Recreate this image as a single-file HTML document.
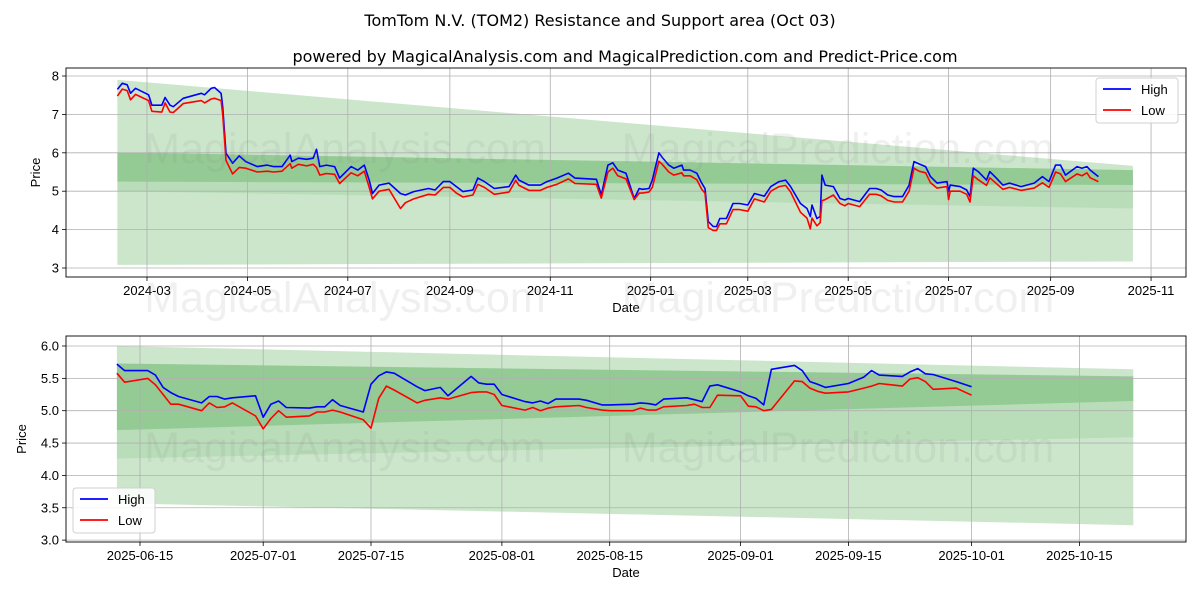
<!DOCTYPE html>
<html><head><meta charset="utf-8"><style>
html,body{margin:0;padding:0;background:#fff;}
svg{display:block;font-family:"Liberation Sans","DejaVu Sans",sans-serif;}
</style></head><body>
<svg id="fig" width="1200" height="600" viewBox="0 0 1200 600">
<text x="600" y="26" text-anchor="middle" font-size="16" font-family="DejaVu Sans, sans-serif">TomTom N.V. (TOM2) Resistance and Support area (Oct 03)</text>
<text x="625" y="62" text-anchor="middle" font-size="16" font-family="DejaVu Sans, sans-serif">powered by MagicalAnalysis.com and MagicalPrediction.com and Predict-Price.com</text>
<g id="top"></g>
<g id="bot"></g>
<g id="wm" font-size="43" fill="#808080" fill-opacity="0.12" text-anchor="middle">
<text x="345" y="163">MagicalAnalysis.com</text><text x="838" y="163">MagicalPrediction.com</text>
<text x="345" y="312">MagicalAnalysis.com</text><text x="838" y="312">MagicalPrediction.com</text>
<text x="345" y="462">MagicalAnalysis.com</text><text x="838" y="462">MagicalPrediction.com</text>
</g>
</svg>
<script>
// ---- top chart data (days since 2024-02-12) ----
const topDays=[0,3,6,8,11,19,21,27,29,32,34,40,51,53,57,59,63,64,66,70,74,78,85,91,95,100,105,106,110,115,119,121,123,127,132,135,142,146,150,153,155,159,165,172,175,180,189,193,198,202,206,210,216,219,223,229,238,242,244,250,257,261,267,274,278,291,294,298,301,304,309,314,317,319,323,325,329,331,335,338,343,344,348,352,355,357,359,362,364,366,370,374,378,383,387,393,397,402,406,409,415,419,421,422,425,427,428,430,435,439,442,444,451,457,461,464,468,472,477,481,484,487,491,494,498,504,505,506,512,516,518,520,523,528,530,534,538,542,549,557,562,566,570,573,576,583,586,589,591,596];
const topHigh=[7.65,7.81,7.77,7.55,7.68,7.51,7.24,7.24,7.44,7.24,7.20,7.42,7.55,7.51,7.68,7.70,7.55,7.20,5.99,5.73,5.92,5.77,5.64,5.68,5.64,5.64,5.94,5.77,5.86,5.83,5.86,6.09,5.64,5.68,5.64,5.34,5.64,5.55,5.68,5.29,4.94,5.16,5.21,4.94,4.90,4.99,5.07,5.03,5.25,5.25,5.12,4.99,5.03,5.34,5.25,5.07,5.12,5.42,5.29,5.16,5.16,5.25,5.34,5.47,5.34,5.31,4.90,5.68,5.74,5.55,5.47,4.81,5.07,5.05,5.07,5.29,6.00,5.88,5.68,5.60,5.68,5.55,5.55,5.47,5.21,5.07,4.21,4.08,4.08,4.29,4.29,4.68,4.68,4.64,4.94,4.87,5.12,5.25,5.29,5.12,4.68,4.55,4.34,4.64,4.29,4.34,5.42,5.16,5.12,4.81,4.77,4.81,4.73,5.07,5.07,5.03,4.90,4.86,4.86,5.16,5.77,5.71,5.64,5.38,5.21,5.25,4.99,5.16,5.12,5.03,4.86,5.60,5.51,5.29,5.51,5.34,5.16,5.21,5.12,5.21,5.38,5.25,5.68,5.68,5.42,5.64,5.60,5.64,5.55,5.38];
const topLow=[7.48,7.66,7.62,7.38,7.52,7.36,7.08,7.06,7.30,7.06,7.05,7.28,7.36,7.30,7.40,7.42,7.36,7.00,5.80,5.45,5.62,5.60,5.50,5.52,5.50,5.52,5.72,5.60,5.70,5.66,5.70,5.62,5.42,5.46,5.44,5.20,5.48,5.40,5.52,5.10,4.80,5.00,5.05,4.55,4.70,4.80,4.92,4.90,5.10,5.10,4.95,4.85,4.90,5.18,5.10,4.92,4.98,5.28,5.15,5.02,5.02,5.10,5.18,5.32,5.20,5.18,4.82,5.50,5.60,5.40,5.32,4.78,4.95,4.95,4.98,5.10,5.78,5.70,5.50,5.42,5.48,5.40,5.40,5.30,5.05,4.95,4.05,3.98,3.98,4.15,4.15,4.52,4.52,4.48,4.80,4.72,5.00,5.12,5.15,4.98,4.45,4.30,4.02,4.30,4.10,4.18,4.75,4.78,4.90,4.68,4.62,4.68,4.60,4.92,4.92,4.88,4.76,4.72,4.72,5.00,5.60,5.52,5.48,5.22,5.08,5.12,4.78,5.00,5.00,4.92,4.72,5.40,5.30,5.15,5.35,5.20,5.05,5.10,5.02,5.08,5.22,5.10,5.50,5.45,5.25,5.45,5.40,5.48,5.35,5.25];
const topTickDays=[18,79,140,202,263,324,383,444,505,567,628];
const topTickLabels=["2024-03","2024-05","2024-07","2024-09","2024-11","2025-01","2025-03","2025-05","2025-07","2025-09","2025-11"];
const topYTicks=[3,4,5,6,7,8];
// bands: [startDay,endDay,startTop,endTop,startBottom,endBottom]
const topBandResist=[0,617,7.90,5.66,5.25,5.16];
const topBandSupport=[0,617,6.01,5.55,3.08,3.17];
const topBandMid=[0,617,6.01,5.55,5.00,4.55];

// ---- bottom chart data (days since 2025-06-15) ----
const botDays=[-3,-2,1,2,3,4,5,8,9,10,11,12,15,16,17,18,19,22,23,24,25,26,29,30,31,32,33,36,37,39,40,43,44,45,46,47,50,51,52,53,54,57,58,60,61,64,65,66,67,68,71,72,73,74,75,78,79,80,81,82,85,86,87,88,89,92,94,95,96,99,100,101,102,103,106,108];
const botHigh=[5.72,5.62,5.62,5.55,5.36,5.28,5.22,5.12,5.22,5.22,5.18,5.20,5.23,4.90,5.10,5.15,5.05,5.04,5.06,5.06,5.17,5.08,4.98,5.41,5.54,5.60,5.58,5.37,5.31,5.36,5.23,5.53,5.43,5.41,5.41,5.25,5.14,5.12,5.15,5.11,5.18,5.18,5.16,5.09,5.09,5.10,5.12,5.11,5.09,5.18,5.20,5.17,5.14,5.38,5.40,5.29,5.23,5.19,5.09,5.64,5.70,5.62,5.45,5.41,5.36,5.42,5.52,5.62,5.55,5.53,5.60,5.65,5.57,5.56,5.45,5.37];
const botLow=[5.58,5.44,5.50,5.40,5.25,5.10,5.10,5.00,5.12,5.05,5.06,5.12,4.92,4.72,4.88,5.00,4.90,4.92,4.98,4.98,5.01,4.98,4.86,4.73,5.19,5.38,5.32,5.12,5.16,5.20,5.18,5.28,5.29,5.29,5.25,5.08,5.01,5.05,5.00,5.04,5.06,5.08,5.05,5.01,5.00,5.00,5.04,5.01,5.01,5.06,5.08,5.10,5.05,5.05,5.24,5.23,5.07,5.06,5.00,5.02,5.46,5.45,5.35,5.30,5.27,5.29,5.35,5.38,5.42,5.38,5.49,5.51,5.45,5.33,5.35,5.24];
const botTickDays=[0,16,30,47,61,78,92,108,122];
const botTickLabels=["2025-06-15","2025-07-01","2025-07-15","2025-08-01","2025-08-15","2025-09-01","2025-09-15","2025-10-01","2025-10-15"];
const botYTicks=[3.0,3.5,4.0,4.5,5.0,5.5,6.0];
const botBandResist=[-3,129,6.00,5.64,4.70,5.15];
const botBandSupport=[-3,129,5.73,5.53,3.57,3.23];
const botBandMid=[-3,129,5.73,5.53,4.26,4.59];

const NS="http://www.w3.org/2000/svg";
function mk(parent,tag,attrs){const e=document.createElementNS(NS,tag);for(const k in attrs)e.setAttribute(k,attrs[k]);parent.appendChild(e);return e;}

function drawPanel(g,cfg){
  const {x0,x1,y0,y1,xScale,yScale}=cfg;
  [[cfg.bandA,0.2,'resistance-band'],[cfg.bandB,0.2,'support-band'],[cfg.bandC,0.09,'overlap-band']].forEach(([b,op,name])=>{
    const pts=[[xScale(b[0]),yScale(b[2])],[xScale(b[1]),yScale(b[3])],[xScale(b[1]),yScale(b[5])],[xScale(b[0]),yScale(b[4])]];
    const p=mk(g,'polygon',{points:pts.map(q=>q.join(',')).join(' '),fill:'#008000','fill-opacity':op});
    
    
  });
  cfg.xTicks.forEach((d,i)=>{
    const x=xScale(d);
    const l=mk(g,'line',{x1:x,x2:x,y1:y0,y2:y1,stroke:'#b0b0b0','stroke-width':0.8});
    
    
    mk(g,'line',{x1:x,x2:x,y1:y1,y2:y1+4,stroke:'#000','stroke-width':0.8});
    const t=mk(g,'text',{x:x,y:y1+18,'text-anchor':'middle','font-size':13});
    t.textContent=cfg.xLabels[i];
    
    
  });
  cfg.yTicks.forEach(v=>{
    const y=yScale(v);
    const l=mk(g,'line',{x1:x0,x2:x1,y1:y,y2:y,stroke:'#b0b0b0','stroke-width':0.8});
    
    
    mk(g,'line',{x1:x0-4,x2:x0,y1:y,y2:y,stroke:'#000','stroke-width':0.8});
    const t=mk(g,'text',{x:x0-7,y:y+4.5,'text-anchor':'end','font-size':13});
    t.textContent=cfg.yFmt(v);
    
    
  });
  [[cfg.high,'#0000ff','high-line'],[cfg.low,'#ff0000','low-line']].forEach(([arr,c,name])=>{
    const d=arr.map((v,i)=>(i?'L':'M')+xScale(cfg.days[i]).toFixed(1)+','+yScale(v).toFixed(1)).join('');
    const p=mk(g,'path',{d:d,fill:'none',stroke:c,'stroke-width':1.6,'stroke-linejoin':'round'});
    
    
  });
  const fr=mk(g,'rect',{x:x0,y:y0,width:x1-x0,height:y1-y0,fill:'none',stroke:'#000','stroke-width':0.9});
  
  
  const xl=mk(g,'text',{x:(x0+x1)/2,y:y1+35,'text-anchor':'middle','font-size':13});
  xl.textContent='Date';
  
  
  const yl=mk(g,'text',{x:cfg.ylx,y:(y0+y1)/2,'text-anchor':'middle','font-size':13,transform:'rotate(-90 '+cfg.ylx+' '+((y0+y1)/2)+')'});
  yl.textContent='Price';
  
  
  const lx=cfg.legX,ly=cfg.legY;
  const lg=mk(g,'g',{});
  
  
  mk(lg,'rect',{x:lx,y:ly,width:82,height:45,rx:3,fill:'#fff','fill-opacity':0.85,stroke:'#d0d0d0'});
  [['High','#0000ff',11],['Low','#ff0000',32]].forEach(([lab,c,dy])=>{
    const e=mk(lg,'g',{});
    
    
    mk(e,'line',{x1:lx+7,x2:lx+35,y1:ly+dy,y2:ly+dy,stroke:c,'stroke-width':1.8});
    const t=mk(e,'text',{x:lx+45,y:ly+dy+5,'font-size':13});
    t.textContent=lab;
  });
}

drawPanel(document.getElementById('top'),{
  x0:66,x1:1186,y0:68,y1:277,
  xScale:d=>147+(d-18)*1.646, yScale:v=>76+(8-v)*38.4,
  days:topDays,high:topHigh,low:topLow,
  xTicks:topTickDays,xLabels:topTickLabels,yTicks:topYTicks,yFmt:v=>String(v),
  bandA:topBandResist,bandB:topBandSupport,bandC:topBandMid,
  ylx:40,legX:1096,legY:78
});
drawPanel(document.getElementById('bot'),{
  x0:66,x1:1186,y0:336,y1:542,
  xScale:d=>140+d*7.70, yScale:v=>346+(6-v)*64.7,
  days:botDays,high:botHigh,low:botLow,
  xTicks:botTickDays,xLabels:botTickLabels,yTicks:botYTicks,yFmt:v=>v.toFixed(1),
  bandA:botBandResist,bandB:botBandSupport,bandC:botBandMid,
  ylx:26,legX:73,legY:488
});
</script>
</body></html>
